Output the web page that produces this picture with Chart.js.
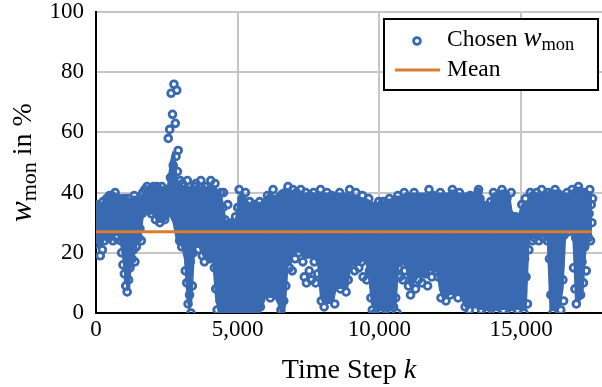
<!DOCTYPE html>
<html>
<head>
<meta charset="utf-8">
<script src="https://cdn.jsdelivr.net/npm/chart.js@4.4.0/dist/chart.umd.min.js"></script>
<style>
  body { margin: 0; background: #fff; }
  #wrap { width: 602px; height: 387px; }
</style>
</head>
<body>
<div id="wrap"><canvas id="wmonChart"></canvas></div>
<script>
// single samples, one every 25 time steps
const stepSize = 25;
// steps 0 - 4975
const segA = [
  30, 23, 36, 27, 33, 25, 19, 35, 29, 21, 37, 31, 24, 34, 26, 38, 28, 32, 25, 39,
  34, 26, 39, 30, 24, 37, 28, 40, 32, 25, 36, 29, 38, 27, 33, 24, 20, 35, 16, 38,
  13, 33, 9, 27, 7, 38, 11, 30, 15, 24, 36, 18, 29, 21, 39, 17, 31, 22, 26, 37,
  25, 35, 28, 38, 24, 33, 40, 36, 34, 41, 37, 35, 42, 38, 34, 40, 36, 41, 33, 39,
  37, 42, 34, 40, 31, 38, 42, 33, 36, 41, 30, 39, 35, 42, 32, 37, 40, 31, 34, 41,
  33, 41, 58, 38, 61, 45, 73, 40, 66, 49, 76, 43, 63, 52, 74, 47, 54, 42, 24, 44,
  38, 22, 43, 30, 26, 40, 14, 35, 10, 44, 3, 28, 6, 17, 0, 39, 9, 20, 33, 42,
  31, 43, 24, 37, 21, 40, 28, 35, 44, 26, 19, 38, 30, 17, 42, 25, 34, 20, 39, 29,
  36, 18, 44, 27, 41, 22, 33, 15, 43, 8, 30, 1, 38, 12, 25, 4, 40, 19, 6, 35,
  40, 10, 31, 2, 24, 14, 36, 7, 28, 18, 0, 22, 30, 5, 16, 26, 11, 32, 3, 20
];
// steps 5000 - 9975
const segB = [
  35, 6, 41, 19, 28, 0, 38, 12, 31, 24, 3, 40, 16, 33, 9, 26, 1, 37, 21, 14,
  30, 4, 22, 36, 13, 27, 0, 34, 18, 8, 25, 37, 2, 15, 32, 20, 10, 29, 35, 24,
  33, 7, 39, 22, 14, 30, 5, 36, 26, 11, 41, 18, 29, 8, 35, 24, 16, 38, 6, 28,
  20, 1, 37, 12, 31, 4, 25, 40, 9, 33, 17, 42, 28, 15, 38, 22, 34, 14, 41, 26,
  36, 18, 30, 40, 24, 34, 20, 38, 27, 41, 22, 32, 17, 37, 12, 29, 40, 10, 35, 25,
  31, 14, 39, 22, 11, 35, 27, 40, 17, 33, 10, 24, 38, 13, 29, 36, 20, 41, 4, 30,
  18, 37, 2, 27, 33, 9, 40, 22, 14, 35, 5, 30, 25, 39, 11, 20, 34, 3, 28, 38,
  24, 36, 13, 31, 40, 8, 27, 19, 34, 38, 15, 29, 22, 7, 37, 32, 11, 26, 41, 17,
  30, 16, 38, 24, 35, 14, 28, 40, 20, 33, 26, 15, 37, 22, 31, 17, 39, 12, 27, 35,
  21, 36, 11, 30, 25, 38, 14, 32, 5, 27, 1, 35, 9, 23, 0, 33, 4, 29, 2, 37
];
// steps 10000 - 14975
const segC = [
  3, 31, 0, 24, 6, 37, 2, 28, 17, 1, 34, 10, 4, 26, 38, 0, 20, 7, 32, 13,
  2, 35, 23, 5, 30, 0, 39, 15, 27, 12, 36, 20, 33, 11, 25, 40, 14, 29, 17, 37,
  22, 9, 34, 28, 6, 38, 18, 31, 12, 40, 25, 8, 35, 20, 29, 11, 37, 16, 24, 33,
  10, 30, 38, 19, 26, 13, 36, 22, 9, 33, 41, 17, 28, 35, 12, 24, 39, 15, 31, 21,
  14, 37, 26, 12, 33, 20, 40, 5, 29, 17, 35, 8, 23, 38, 4, 31, 11, 27, 36, 19,
  6, 34, 24, 41, 13, 30, 18, 38, 9, 27, 35, 5, 22, 40, 15, 32, 7, 26, 37, 11,
  29, 2, 36, 19, 8, 33, 25, 1, 39, 14, 31, 5, 22, 38, 11, 27, 3, 34, 17, 40,
  41, 9, 38, 24, 1, 36, 15, 30, 4, 20, 33, 0, 27, 12, 35, 6, 22, 37, 2, 17,
  29, 40, 3, 34, 18, 0, 37, 10, 25, 39, 6, 31, 14, 41, 21, 1, 36, 16, 24, 8,
  38, 19, 33, 2, 27, 11, 40, 0, 23, 30, 5, 16, 32, 9, 26, 1, 20, 13, 29, 4
];
// steps 15000 - 17525
const segD = [
  24, 36, 7, 30, 0, 18, 38, 12, 27, 3, 33, 21, 26, 40, 28, 35, 24, 39, 31, 25,
  33, 26, 40, 29, 36, 24, 38, 31, 27, 41, 34, 25, 37, 30, 39, 28, 35, 24, 40, 32,
  18, 38, 6, 30, 24, 0, 35, 13, 41, 21, 3, 33, 27, 9, 39, 16, 1, 29, 36, 11,
  4, 26, 37, 31, 28, 40, 33, 27, 38, 30, 35, 29, 41, 34, 15, 39, 8, 25, 3, 36,
  20, 42, 12, 31, 6, 37, 17, 27, 10, 40, 22, 34, 14, 28, 39, 25, 33, 41, 24, 36,
  30, 38
];

// the dense core of the same cloud, where the circles merge into solid colour,
// upper and lower edge every 100 steps
const coreStep = 100;
const coreTop = [
  37, 37, 37, 38, 39, 40, 39, 40, 39, 39, 39, 39, 38, 39, 39, 38, 39, 41, 41, 41,
  41, 42, 42, 42, 42, 42, 50, 54, 53, 43, 42, 42, 43, 42, 42, 42, 43, 42, 43, 42,
  42, 43, 42, 41, 40, 37, 31, 30, 31, 31, 38, 40, 40, 38, 37, 36, 37, 37, 37, 38,
  39, 40, 40, 39, 40, 41, 41, 41, 40, 41, 40, 40, 40, 40, 40, 40, 40, 40, 40, 40,
  40, 40, 40, 40, 40, 40, 40, 40, 40, 40, 39, 39, 39, 39, 38, 38, 38, 37, 37, 37,
  37, 37, 38, 38, 38, 39, 39, 39, 39, 40, 40, 40, 40, 40, 40, 40, 40, 40, 40, 40,
  40, 40, 40, 40, 40, 41, 41, 41, 40, 40, 40, 40, 40, 40, 40, 41, 40, 37, 37, 37,
  40, 40, 40, 41, 41, 41, 40, 34, 33, 33, 36, 37, 37, 39, 40, 40, 40, 40, 40, 40,
  41, 41, 41, 41, 41, 40, 40, 40, 41, 42, 42, 42, 41, 41, 40, 40
];
const coreBottom = [
  23, 21, 22, 24, 25, 25, 25, 26, 25, 20, 12, 7, 10, 18, 20, 24, 25, 33, 34, 34,
  33, 31, 30, 30, 30, 31, 32, 30, 25, 23, 22, 18, 4, 0, 4, 21, 22, 20, 18, 18,
  17, 17, 5, 0, 0, 0, 0, 0, 0, 0, 0, 0, 0, 0, 0, 0, 0, 0, 0, 2,
  5, 5, 5, 5, 3, 0, 0, 2, 16, 17, 20, 20, 20, 18, 18, 18, 18, 18, 16, 5,
  3, 3, 3, 3, 4, 8, 8, 8, 8, 8, 15, 16, 16, 16, 17, 17, 12, 3, 1, 1,
  1, 1, 1, 1, 1, 1, 2, 15, 16, 16, 10, 8, 8, 12, 12, 12, 12, 12, 14, 14,
  14, 8, 5, 5, 5, 6, 6, 6, 6, 4, 2, 2, 2, 2, 2, 1, 1, 1, 1, 1,
  1, 1, 1, 1, 1, 1, 1, 1, 1, 1, 1, 1, 1, 24, 25, 25, 25, 25, 25, 25,
  1, 1, 1, 1, 2, 8, 27, 27, 27, 4, 4, 4, 6, 20, 25, 25
];

const meanValue = 27;
const meanSpan = [0, 17500];
const xTicks = [0, 5000, 10000, 15000];
const xMax = 17855;
const yMax = 100;

const blue = "rgb(57, 106, 177)";
const orange = "rgb(218, 124, 48)";
const gridGray = "#c6c6c6";
const serif = '"Liberation Serif", "Times New Roman", serif';

const wmon = segA.concat(segB, segC, segD);
const points = wmon.map((v, i) => ({ x: i * stepSize, y: v }));
const corePtsLow = coreBottom.map((v, i) => ({ x: i * coreStep, y: v }));
const corePtsHigh = coreTop.map((v, i) => ({ x: i * coreStep, y: v }));
const meanLine = meanSpan.map((x) => ({ x: x, y: meanValue }));

// draws a row of text pieces with different fonts
function runsWidth(ctx, runs) {
  let w = 0;
  runs.forEach((r) => {
    ctx.font = r.font;
    w += ctx.measureText(r.text).width;
  });
  return w;
}
function drawRuns(ctx, runs, x, y) {
  let cx = x;
  runs.forEach((r) => {
    ctx.font = r.font;
    ctx.fillText(r.text, cx, y + (r.dy || 0));
    cx += ctx.measureText(r.text).width;
  });
}

const decorations = {
  id: "decorations",
  afterDraw(chart) {
    const c = chart.ctx;
    const a = chart.chartArea;
    c.save();
    c.fillStyle = "#000";
    c.textBaseline = "alphabetic";
    c.textAlign = "left";

    // x title
    const xRuns = [
      { text: "Time Step ", font: "28px " + serif },
      { text: "k", font: "italic 28px " + serif },
    ];
    const xw = runsWidth(c, xRuns);
    drawRuns(c, xRuns, (a.left + a.right) / 2 - xw / 2, a.bottom + 65);

    // y title
    const yRuns = [
      { text: "w", font: "italic 31px " + serif },
      { text: "mon", font: "22px " + serif, dy: 5 },
      { text: " in %", font: "28px " + serif },
    ];
    const yw = runsWidth(c, yRuns);
    c.save();
    c.translate(31, (a.top + a.bottom) / 2);
    c.rotate(-Math.PI / 2);
    drawRuns(c, yRuns, -yw / 2, 0);
    c.restore();

    // legend
    const lx = a.right - 218;
    const ly = a.top + 7;
    c.fillStyle = "#fff";
    c.fillRect(lx, ly, 214, 71);
    c.strokeStyle = "#000";
    c.lineWidth = 2;
    c.strokeRect(lx, ly, 214, 71);

    c.beginPath();
    c.arc(lx + 33, ly + 22, 3.4, 0, Math.PI * 2);
    c.strokeStyle = blue;
    c.lineWidth = 2.8;
    c.stroke();

    c.beginPath();
    c.moveTo(lx + 11, ly + 51);
    c.lineTo(lx + 56, ly + 51);
    c.strokeStyle = orange;
    c.lineWidth = 3;
    c.stroke();

    c.fillStyle = "#000";
    drawRuns(c, [
      { text: "Chosen ", font: "23.5px " + serif },
      { text: "w", font: "italic 27px " + serif },
      { text: "mon", font: "18.5px " + serif, dy: 4 },
    ], lx + 63, ly + 27);
    drawRuns(c, [{ text: "Mean", font: "23.5px " + serif }], lx + 63, ly + 57);
    c.restore();
  },
};

const ctx = document.getElementById("wmonChart");
const wmonChart = new Chart(ctx, {
  type: "scatter",
  data: {
    datasets: [
      {
        label: "Mean",
        type: "line",
        data: meanLine,
        borderColor: orange,
        borderWidth: 3,
        pointRadius: 0,
        order: 0,
      },
      {
        label: "Chosen w_mon",
        data: points,
        borderColor: blue,
        backgroundColor: "rgba(0,0,0,0)",
        pointRadius: 3.4,
        pointBorderWidth: 2.8,
        order: 1,
      },
      {
        label: "core low",
        type: "line",
        data: corePtsLow,
        borderColor: "rgba(0,0,0,0)",
        borderWidth: 0,
        pointRadius: 0,
        fill: false,
        order: 2,
      },
      {
        label: "core high",
        type: "line",
        data: corePtsHigh,
        borderColor: "rgba(0,0,0,0)",
        borderWidth: 0,
        pointRadius: 0,
        backgroundColor: blue,
        fill: "-1",
        order: 3,
      },
    ],
  },
  options: {
    responsive: true,
    maintainAspectRatio: false,
    animation: false,
    events: [],
    layout: {
      autoPadding: false,
      padding: { left: 0, right: 0, top: 12, bottom: 0 },
    },
    plugins: {
      legend: { display: false },
      tooltip: { enabled: false },
    },
    scales: {
      x: {
        type: "linear",
        min: 0,
        max: xMax,
        afterBuildTicks: (s) => {
          s.ticks = xTicks.map((v) => ({ value: v }));
        },
        afterFit: (s) => {
          s.height = 74;
          s.paddingLeft = 0;
          s.paddingRight = 0;
        },
        ticks: {
          callback: (v) => v.toLocaleString("en-US"),
          font: { family: serif, size: 23 },
          color: "#000",
          padding: 3,
          maxRotation: 0,
          autoSkip: false,
        },
        grid: {
          color: (c) => (c.tick && c.tick.value === 0 ? "rgba(0,0,0,0)" : gridGray),
          lineWidth: 2,
          drawTicks: false,
        },
        border: { color: "#000", width: 2 },
      },
      y: {
        min: 0,
        max: yMax,
        afterFit: (s) => {
          s.width = 96;
          s.paddingTop = 0;
          s.paddingBottom = 0;
        },
        ticks: {
          stepSize: 20,
          font: { family: serif, size: 23, lineHeight: 1 },
          color: "#000",
          padding: 12,
        },
        grid: {
          color: (c) => (c.tick && c.tick.value === 0 ? "rgba(0,0,0,0)" : gridGray),
          lineWidth: 2,
          drawTicks: false,
        },
        border: { color: "#000", width: 2 },
      },
    },
  },
  plugins: [decorations],
});
</script>
</body>
</html>
